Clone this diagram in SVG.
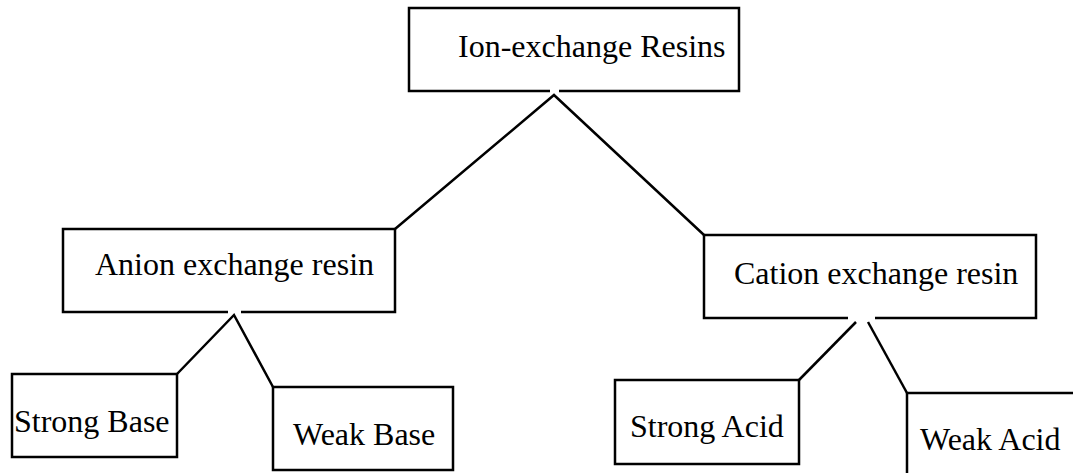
<svg xmlns="http://www.w3.org/2000/svg" width="1073" height="473" viewBox="0 0 1073 473">
<style>
.box{fill:none;stroke:#000;stroke-width:2.5}
.lbl{font-family:"Liberation Serif","Times New Roman",serif;font-size:32px;fill:#000}
.conn{fill:none;stroke:#000;stroke-width:2.5}
</style>
<rect width="1073" height="473" fill="#fff"/>
<g id="node-root">
<path class="box" d="M550,91 H409 V8 H739 V91 H559"/>
<text class="lbl" x="458" y="57">Ion-exchange Resins</text>
</g>
<g id="node-anion">
<path class="box" d="M228,312 H63 V229 H395 V312 H241"/>
<text class="lbl" x="95" y="275">Anion exchange resin</text>
</g>
<g id="node-cation">
<path class="box" d="M848,318 H704 V235 H1036 V318 H875"/>
<text class="lbl" x="734" y="284">Cation exchange resin</text>
</g>
<g id="node-strong-base">
<rect class="box" x="12" y="374" width="165" height="83"/>
<text class="lbl" x="14" y="432">Strong Base</text>
</g>
<g id="node-weak-base">
<rect class="box" x="273" y="387" width="180" height="83"/>
<text class="lbl" x="293" y="445">Weak Base</text>
</g>
<g id="node-strong-acid">
<rect class="box" x="615" y="380" width="184" height="84"/>
<text class="lbl" x="630" y="437">Strong Acid</text>
</g>
<g id="node-weak-acid">
<path class="box" d="M907,480 V393 H1080"/>
<text class="lbl" x="920" y="450">Weak Acid</text>
</g>
<g id="connectors">
<polyline class="conn" points="395,229 554,95 704,235"/>
<polyline class="conn" points="177,374 234,315 273,387"/>
<line class="conn" x1="856" y1="322" x2="799" y2="380"/>
<line class="conn" x1="868" y1="322" x2="907" y2="393"/>
</g>
</svg>
